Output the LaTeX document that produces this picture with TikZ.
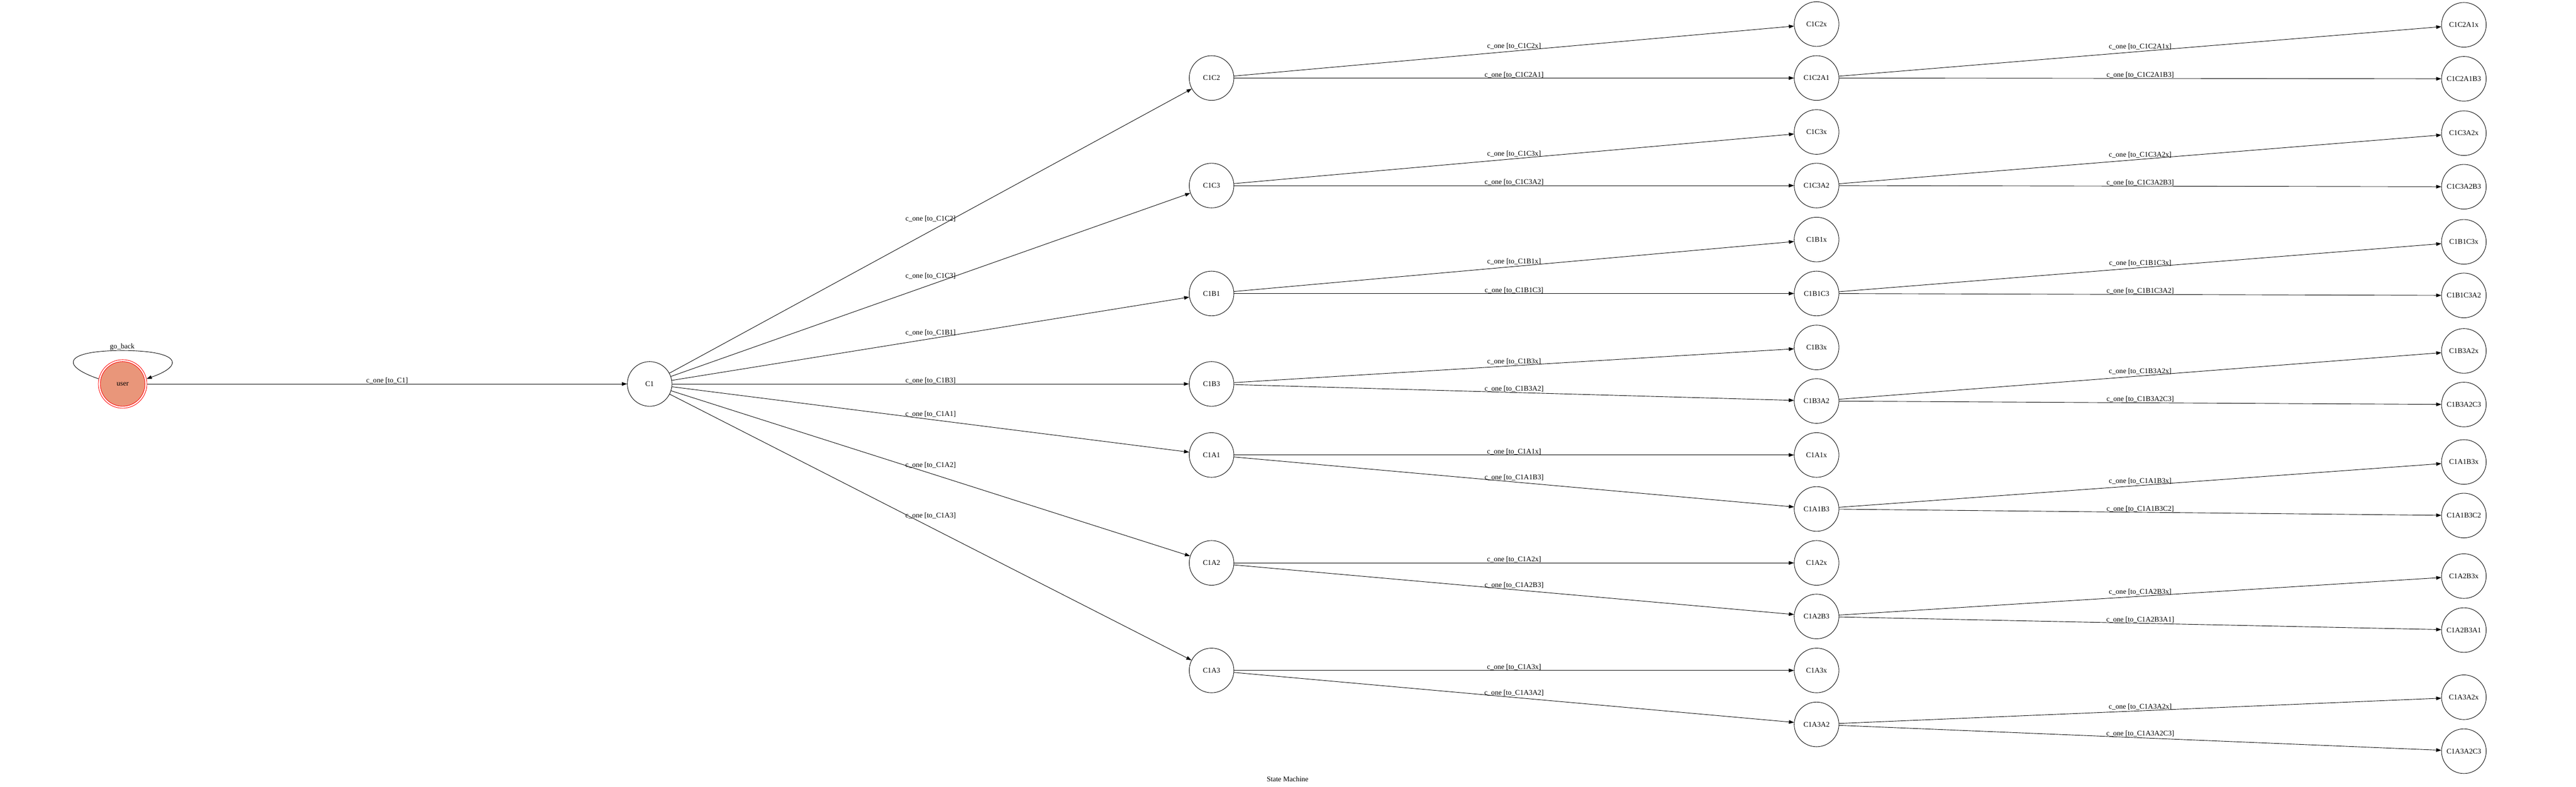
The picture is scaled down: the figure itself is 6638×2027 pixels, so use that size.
\documentclass[tikz,border=0pt]{standalone}
\usepackage{fontspec}
\setmainfont{Liberation Serif}
\usetikzlibrary{arrows.meta}
\definecolor{dsalmon}{HTML}{E9967A}
\tikzset{
  st/.style={circle, draw=black, line width=0.9pt, minimum size=86.25pt, inner sep=0pt,
    font=\fontsize{14}{16}\selectfont},
  edge/.style={draw=black, line width=0.9pt, -{Triangle[length=10pt,width=7pt]}},
  lbl/.style={midway, anchor=south, inner sep=0pt, font=\fontsize{14}{16}\selectfont},
  ttl/.style={inner sep=0pt, font=\fontsize{14}{16}\selectfont}
}
\begin{document}
\begin{tikzpicture}[x=0.75pt, y=-0.75pt]
\useasboundingbox[fill=white] (0,0) rectangle (6638,2027);

% start node
\node[st, draw=red, fill=dsalmon, outer sep=4.2pt] (user) at (316,989) {user};
\draw[red, line width=0.9pt] (user.center) circle[radius=46.9pt];

% column 1
\node[st] (C1) at (1674,989) {C1};

% column 2
\node[st] (C1C2) at (3122,201) {C1C2};
\node[st] (C1C3) at (3122,478) {C1C3};
\node[st] (C1B1) at (3122,756) {C1B1};
\node[st] (C1B3) at (3122,989) {C1B3};
\node[st] (C1A1) at (3122,1172) {C1A1};
\node[st] (C1A2) at (3122,1450) {C1A2};
\node[st] (C1A3) at (3122,1727) {C1A3};

% column 3
\node[st] (C1C2x)  at (4681,62)   {C1C2x};
\node[st] (C1C2A1) at (4681,201)  {C1C2A1};
\node[st] (C1C3x)  at (4681,340)  {C1C3x};
\node[st] (C1C3A2) at (4681,478)  {C1C3A2};
\node[st] (C1B1x)  at (4681,617)  {C1B1x};
\node[st] (C1B1C3) at (4681,756)  {C1B1C3};
\node[st] (C1B3x)  at (4681,895)  {C1B3x};
\node[st] (C1B3A2) at (4681,1033) {C1B3A2};
\node[st] (C1A1x)  at (4681,1172) {C1A1x};
\node[st] (C1A1B3) at (4681,1311) {C1A1B3};
\node[st] (C1A2x)  at (4681,1450) {C1A2x};
\node[st] (C1A2B3) at (4681,1588) {C1A2B3};
\node[st] (C1A3x)  at (4681,1727) {C1A3x};
\node[st] (C1A3A2) at (4681,1866) {C1A3A2};

% column 4
\node[st] (C1C2A1x)  at (6349,64)   {C1C2A1x};
\node[st] (C1C2A1B3) at (6349,203)  {C1C2A1B3};
\node[st] (C1C3A2x)  at (6349,343)  {C1C3A2x};
\node[st] (C1C3A2B3) at (6349,481)  {C1C3A2B3};
\node[st] (C1B1C3x)  at (6349,623)  {C1B1C3x};
\node[st] (C1B1C3A2) at (6349,761)  {C1B1C3A2};
\node[st] (C1B3A2x)  at (6349,904)  {C1B3A2x};
\node[st] (C1B3A2C3) at (6349,1042) {C1B3A2C3};
\node[st] (C1A1B3x)  at (6349,1190) {C1A1B3x};
\node[st] (C1A1B3C2) at (6349,1328) {C1A1B3C2};
\node[st] (C1A2B3x)  at (6349,1484) {C1A2B3x};
\node[st] (C1A2B3A1) at (6349,1623) {C1A2B3A1};
\node[st] (C1A3A2x)  at (6349,1796) {C1A3A2x};
\node[st] (C1A3A2C3) at (6349,1935) {C1A3A2C3};

\node[ttl] (title) at (3318,2007) {State Machine};

% self loop
\draw[edge] (user.168) .. controls (150,940) and (170,903) .. (315,903)
  node[anchor=south, inner sep=0pt, font=\fontsize{14}{16}\selectfont] (gb) {go\_back}
  .. controls (460,903) and (480,940) .. (user.12);

% user -> C1
\draw[edge] (user) -- node[lbl] {c\_one [to\_C1]} (C1);

% C1 -> column 2
\draw[edge] (C1) -- node[lbl, yshift=17.1pt] {c\_one [to\_C1C2]} (C1C2);
\draw[edge] (C1) -- node[lbl, yshift=11.1pt] {c\_one [to\_C1C3]} (C1C3);
\draw[edge] (C1) -- node[lbl, yshift=5.1pt] {c\_one [to\_C1B1]} (C1B1);
\draw[edge] (C1) -- node[lbl] {c\_one [to\_C1B3]} (C1B3);
\draw[edge] (C1) -- node[lbl, yshift=4pt] {c\_one [to\_C1A1]} (C1A1);
\draw[edge] (C1) -- node[lbl, yshift=10pt] {c\_one [to\_C1A2]} (C1A2);
\draw[edge] (C1) -- node[lbl, yshift=16.1pt] {c\_one [to\_C1A3]} (C1A3);

% column 2 -> column 3
\draw[edge] (C1C2) -- node[lbl, yshift=2.8pt] {c\_one [to\_C1C2x]} (C1C2x);
\draw[edge] (C1C2) -- node[lbl] {c\_one [to\_C1C2A1]} (C1C2A1);
\draw[edge] (C1C3) -- node[lbl, yshift=2.8pt] {c\_one [to\_C1C3x]} (C1C3x);
\draw[edge] (C1C3) -- node[lbl] {c\_one [to\_C1C3A2]} (C1C3A2);
\draw[edge] (C1B1) -- node[lbl, yshift=2.8pt] {c\_one [to\_C1B1x]} (C1B1x);
\draw[edge] (C1B1) -- node[lbl] {c\_one [to\_C1B1C3]} (C1B1C3);
\draw[edge] (C1B3) -- node[lbl, yshift=1.9pt] {c\_one [to\_C1B3x]} (C1B3x);
\draw[edge] (C1B3) -- node[lbl, yshift=0.9pt] {c\_one [to\_C1B3A2]} (C1B3A2);
\draw[edge] (C1A1) -- node[lbl] {c\_one [to\_C1A1x]} (C1A1x);
\draw[edge] (C1A1) -- node[lbl, yshift=2.8pt] {c\_one [to\_C1A1B3]} (C1A1B3);
\draw[edge] (C1A2) -- node[lbl] {c\_one [to\_C1A2x]} (C1A2x);
\draw[edge] (C1A2) -- node[lbl, yshift=2.8pt] {c\_one [to\_C1A2B3]} (C1A2B3);
\draw[edge] (C1A3) -- node[lbl] {c\_one [to\_C1A3x]} (C1A3x);
\draw[edge] (C1A3) -- node[lbl, yshift=2.8pt] {c\_one [to\_C1A3A2]} (C1A3A2);

% column 3 -> column 4
\draw[edge] (C1C2A1) -- node[lbl, yshift=2.6pt] {c\_one [to\_C1C2A1x]} (C1C2A1x);
\draw[edge] (C1C2A1) -- node[lbl] {c\_one [to\_C1C2A1B3]} (C1C2A1B3);
\draw[edge] (C1C3A2) -- node[lbl, yshift=2.5pt] {c\_one [to\_C1C3A2x]} (C1C3A2x);
\draw[edge] (C1C3A2) -- node[lbl] {c\_one [to\_C1C3A2B3]} (C1C3A2B3);
\draw[edge] (C1B1C3) -- node[lbl, yshift=2.5pt] {c\_one [to\_C1B1C3x]} (C1B1C3x);
\draw[edge] (C1B1C3) -- node[lbl, yshift=0.1pt] {c\_one [to\_C1B1C3A2]} (C1B1C3A2);
\draw[edge] (C1B3A2) -- node[lbl, yshift=2.4pt] {c\_one [to\_C1B3A2x]} (C1B3A2x);
\draw[edge] (C1B3A2) -- node[lbl, yshift=0.2pt] {c\_one [to\_C1B3A2C3]} (C1B3A2C3);
\draw[edge] (C1A1B3) -- node[lbl, yshift=2.3pt] {c\_one [to\_C1A1B3x]} (C1A1B3x);
\draw[edge] (C1A1B3) -- node[lbl, yshift=0.3pt] {c\_one [to\_C1A1B3C2]} (C1A1B3C2);
\draw[edge] (C1A2B3) -- node[lbl, yshift=2pt] {c\_one [to\_C1A2B3x]} (C1A2B3x);
\draw[edge] (C1A2B3) -- node[lbl, yshift=0.7pt] {c\_one [to\_C1A2B3A1]} (C1A2B3A1);
\draw[edge] (C1A3A2) -- node[lbl, yshift=1.3pt] {c\_one [to\_C1A3A2x]} (C1A3A2x);
\draw[edge] (C1A3A2) -- node[lbl, yshift=1.3pt] {c\_one [to\_C1A3A2C3]} (C1A3A2C3);
\end{tikzpicture}
\end{document}
